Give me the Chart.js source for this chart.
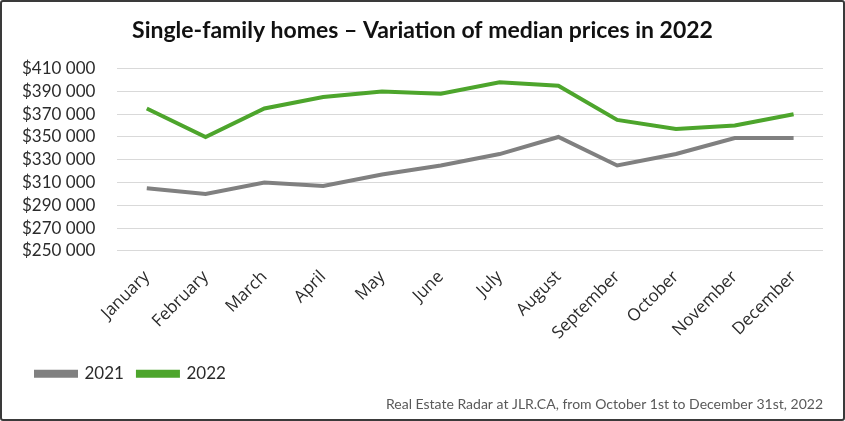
<!DOCTYPE html>
<html>
<head>
<meta charset="utf-8">
<script src="https://cdn.jsdelivr.net/npm/chart.js@4"></script>
<style>
  html, body { margin: 0; padding: 0; background: #fff; }
  #wrap {
    width: 845px; height: 421px; box-sizing: border-box;
    border: 2px solid #3a3a3a; border-radius: 3px; position: relative;
  }
</style>
</head>
<body>
<div id="wrap"><canvas id="priceChart"></canvas></div>
<script>
// Chart data
const months = ['January', 'February', 'March', 'April', 'May', 'June', 'July',
    'August', 'September', 'October', 'November', 'December'];
const prices2021 = [305000, 300000, 310000, 307000, 317000, 325000, 335000, 350000, 325000, 335000, 349000, 349000];
const prices2022 = [375000, 350000, 375000, 385000, 390000, 388000, 398000, 395000, 365000, 357000, 360000, 370000];
const yMin = 250000;
const yMax = 410000;
const yStep = 20000;

const GRAY = '#808080';
const GREEN = '#4da52c';
const TEXT = '#2b2b2b';

// Format as "$410 000"
function formatPrice(value) {
    return '$' + String(value).replace(/\B(?=(\d{3})+(?!\d))/g, ' ');
}

const ctx = document.getElementById('priceChart').getContext('2d');

new Chart(ctx, {
    type: 'line',
    data: {
        labels: months,
        datasets: [
            {
                label: '2021',
                data: prices2021,
                borderColor: GRAY,
                backgroundColor: GRAY,
                borderWidth: 4,
                pointRadius: 0,
                tension: 0
            },
            {
                label: '2022',
                data: prices2022,
                borderColor: GREEN,
                backgroundColor: GREEN,
                borderWidth: 4,
                pointRadius: 0,
                tension: 0
            }
        ]
    },
    options: {
        responsive: true,
        maintainAspectRatio: false,
        animation: false,
        // rotated "January" may hang left of the plot, like the original
        layout: { autoPadding: false, padding: { left: 20, right: 20, top: 2, bottom: 6 } },
        scales: {
            x: {
                offset: true,
                grid: { display: false },
                border: { display: false },
                ticks: {
                    color: TEXT,
                    font: { family: 'Open Sans', size: 17 },
                    maxRotation: 45,
                    minRotation: 45,
                    autoSkip: false,
                    padding: 8
                }
            },
            y: {
                min: yMin,
                max: yMax,
                grid: { color: '#d9d9d9', lineWidth: 1, drawTicks: false },
                border: { display: false },
                ticks: {
                    stepSize: yStep,
                    autoSkip: false,
                    color: TEXT,
                    font: { family: 'Lato', size: 17 },
                    padding: 22,
                    callback: value => formatPrice(value)
                },
                // Chart.js reserves the tick padding on both sides; keep only the inner one
                afterFit: scale => {
                    scale.width -= scale.options.ticks.padding;
                }
            }
        },
        plugins: {
            title: {
                display: true,
                text: 'Single-family homes – Variation of median prices in 2022',
                color: '#111',
                font: { family: 'Lato', size: 23, weight: 'bold' },
                padding: { top: 13, bottom: 24 }
            },
            legend: {
                position: 'bottom',
                align: 'start',
                labels: {
                    color: TEXT,
                    font: { family: 'Lato', size: 17 },
                    boxWidth: 40,
                    boxHeight: 4,
                    padding: 14
                }
            },
            subtitle: {
                display: true,
                position: 'bottom',
                align: 'end',
                text: 'Real Estate Radar at JLR.CA, from October 1st to December 31st, 2022',
                color: '#595959',
                font: { family: 'Lato', size: 14 },
                padding: { top: 4, bottom: 0 }
            },
            tooltip: { enabled: false }
        }
    }
});
</script>
</body>
</html>
